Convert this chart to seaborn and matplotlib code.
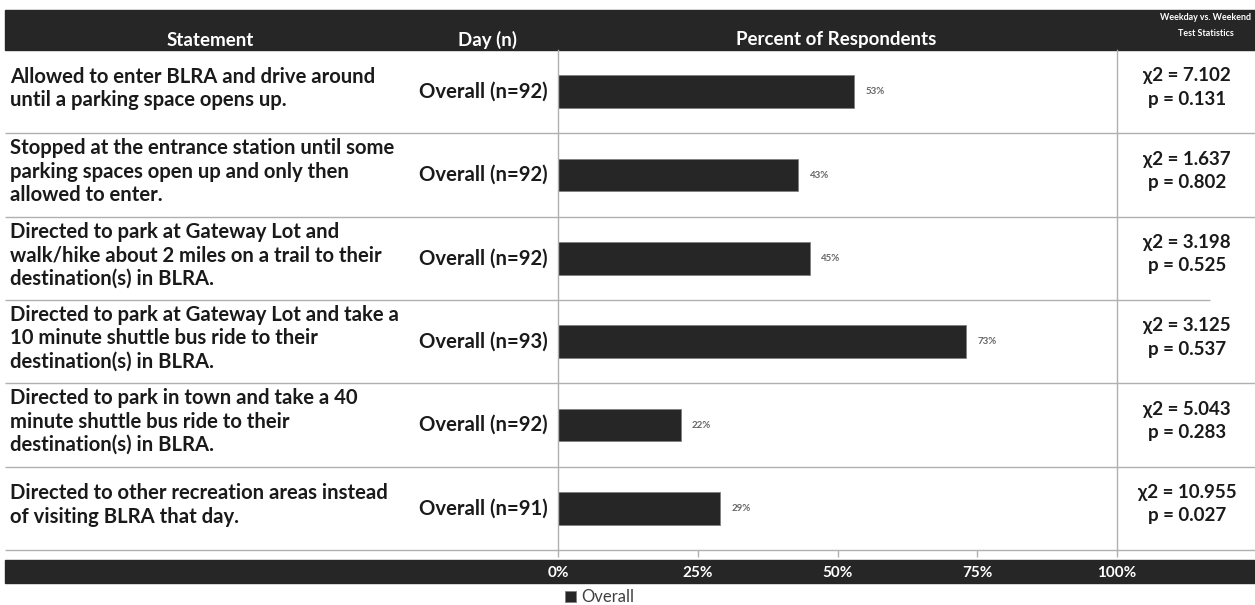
import pandas as pd
import matplotlib.pyplot as plt
import seaborn as sns
from matplotlib import transforms
from matplotlib.patches import Rectangle

# ---------------- Data ----------------
statements = [
    "Allowed to enter BLRA and drive around\nuntil a parking space opens up.",
    "Stopped at the entrance station until some\nparking spaces open up and only then\nallowed to enter.",
    "Directed to park at Gateway Lot and\nwalk/hike about 2 miles on a trail to their\ndestination(s) in BLRA.",
    "Directed to park at Gateway Lot and take a\n10 minute shuttle bus ride to their\ndestination(s) in BLRA.",
    "Directed to park in town and take a 40\nminute shuttle bus ride to their\ndestination(s) in BLRA.",
    "Directed to other recreation areas instead\nof visiting BLRA that day.",
]
n_resp = [92, 92, 92, 93, 92, 91]
pct = [53, 43, 45, 73, 22, 29]
chi2 = [7.102, 1.637, 3.198, 3.125, 5.043, 10.955]
p_vals = [0.131, 0.802, 0.525, 0.537, 0.283, 0.027]
x_ticks = [0, 25, 50, 75, 100]

df = pd.DataFrame({"statement": statements, "pct": pct, "group": "Overall"})

# ---------------- Style ----------------
sns.set_theme(style="white")
plt.rcParams["font.family"] = ["Lato", "DejaVu Sans"]

DARK = "#262626"
GRID = "#b0b0b0"
TXT = "#1a1a1a"
W, H = 1255, 605

fig = plt.figure(figsize=(W / 100, H / 100), dpi=100)

# overlay in pixel coordinates for the table parts
ov = fig.add_axes([0, 0, 1, 1])
ov.set_xlim(0, W)
ov.set_ylim(H, 0)
ov.axis("off")
ov.set_zorder(0)

ax = fig.add_axes([558 / W, 55 / H, 559 / W, 500 / H])
ax.set_zorder(1)
ax.patch.set_alpha(0)

# header and footer bands
ov.add_patch(Rectangle((5, 10), W - 5, 40, color=DARK))
ov.add_patch(Rectangle((5, 560), W - 5, 23, color=DARK))

hdr = dict(color="white", fontweight="bold", ha="center", va="center")
ov.text(210, 40, "Statement", fontsize=13.5, **hdr)
ov.text(487, 40, "Day (n)", fontsize=13.5, **hdr)
ov.text(836, 40, "Percent of Respondents", fontsize=13.5, **hdr)
ov.text(1206, 18, "Weekday vs. Weekend", fontsize=6.4, **hdr)
ov.text(1206, 33, "Test Statistics", fontsize=6.4, **hdr)

# ---------------- Bars ----------------
sns.barplot(data=df, x="pct", y="statement", hue="group", palette=[DARK],
            orient="h", width=0.39, edgecolor="#7f7f7f", linewidth=0.6, ax=ax)

ax.set_xlim(0, 100)
ax.set_ylim(len(statements) - 0.5, -0.5)
ax.set_yticks([])
ax.set_xlabel("")
ax.set_ylabel("")
ax.set_xticks(x_ticks)
ax.set_xticklabels([f"{t}%" for t in x_ticks], color="white",
                   fontweight="bold", fontsize=11)
ax.tick_params(axis="x", bottom=True, length=5, width=1, color=GRID, pad=6.5)
for s in ["top", "bottom"]:
    ax.spines[s].set_visible(False)
for s in ["left", "right"]:
    ax.spines[s].set_color(GRID)
    ax.spines[s].set_linewidth(1)

ax.bar_label(ax.containers[0], labels=[f"{v}%" for v in pct], padding=8,
             fontsize=7, color="#666666", fontweight="bold")

# ---------------- Table text ----------------
trans = transforms.blended_transform_factory(ov.transData, ax.transData)

for i in range(1, len(statements) + 1):
    x_end = 1210 if i == 3 else W
    ov.plot([5, x_end], [i - 0.5, i - 0.5], color=GRID, lw=1,
            transform=trans, solid_capstyle="butt")

for i, (st, n, c, p) in enumerate(zip(statements, n_resp, chi2, p_vals)):
    ov.text(10, i - 0.04, st, transform=trans, ha="left", va="center",
            fontsize=14.6, fontweight="bold", color=TXT, linespacing=1.2)
    ov.text(548, i, f"Overall (n={n})", transform=trans, ha="right",
            va="center", fontsize=14.6, fontweight="bold", color=TXT)
    ov.text(1187, i - 0.05, f"χ2 = {c:.3f}\np = {p:.3f}", transform=trans,
            ha="center", va="center", fontsize=13.5, fontweight="bold",
            color=TXT, linespacing=1.45)

# ---------------- Legend ----------------
sns.move_legend(ax, loc="center left",
                bbox_to_anchor=(557 / W, (H - 597) / H),
                bbox_transform=fig.transFigure, frameon=False, title=None,
                handlelength=0.65, handleheight=0.65, handletextpad=0.3,
                fontsize=12, labelcolor="#404040", borderpad=0)

fig.savefig("out.png", dpi=100)
